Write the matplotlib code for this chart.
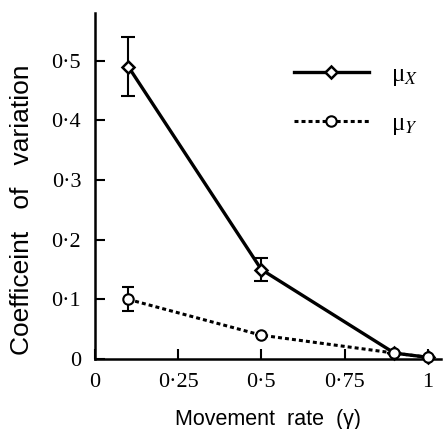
import numpy as np
import matplotlib
matplotlib.use("Agg")
import matplotlib.pyplot as plt

# data
rate = [0.1, 0.5, 0.9, 1.0]
cv_x = [0.49, 0.15, 0.01, 0.003]
err_x = [0.05, 0.02, 0.0, 0.0]
cv_y = [0.10, 0.04, 0.01, 0.003]
err_y = [0.02, 0.0, 0.0, 0.0]

xticks = [0, 0.25, 0.5, 0.75, 1]
xticklabels = ['0', '0·25', '0·5', '0·75', '1']
yticks = [0, 0.1, 0.2, 0.3, 0.4, 0.5]
yticklabels = ['0', '0·1', '0·2', '0·3', '0·4', '0·5']

plt.rcParams['mathtext.fontset'] = 'stix'

fig = plt.figure(figsize=(4.43, 4.29), dpi=100)
ax = fig.add_axes([0.2145, 0.163, 0.781, 0.807])

# error bars (no markers), then lines with markers on top
ax.errorbar(rate, cv_x, yerr=err_x, fmt='none', ecolor='black', capsize=5,
            elinewidth=1.5, capthick=1.5, clip_on=False)
ax.errorbar(rate, cv_y, yerr=err_y, fmt='none', ecolor='black', capsize=4,
            elinewidth=1.5, capthick=1.5, clip_on=False)
ax.plot(rate, cv_x, color='black', lw=2.4, marker='D', ms=6, mfc='white',
        mec='black', mew=1.8, label='μ$_X$', clip_on=False, zorder=3)
ax.plot(rate, cv_y, color='black', lw=2.2, ls=(0, (1.3, 1.0)), marker='o',
        ms=7.5, mfc='white', mec='black', mew=1.5, label='μ$_Y$',
        clip_on=False, zorder=3)

ax.set_xlim(0, 1.04)
ax.set_ylim(0, 0.58)
ax.set_xticks(xticks)
ax.set_xticklabels(xticklabels, family='Liberation Serif', fontsize=16)
ax.set_yticks(yticks)
ax.set_yticklabels(yticklabels, family='Liberation Serif', fontsize=16)
ax.tick_params(direction='in', length=7, width=1.5, pad=10)

for s in ['top', 'right']:
    ax.spines[s].set_visible(False)
for s in ['left', 'bottom']:
    ax.spines[s].set_linewidth(1.8)

ax.set_xlabel('Movement  rate  (γ)', family='Liberation Sans', fontsize=15.5)
ax.set_ylabel('Coefficeint   of   variation', family='Liberation Sans',
              fontsize=19)
ax.xaxis.set_label_coords(0.5, -0.145)
ax.yaxis.set_label_coords(-0.175, 0.43)

leg = ax.legend(loc='upper right', bbox_to_anchor=(1.0, 0.92), frameon=False,
                handlelength=3.0, labelspacing=1.0, handletextpad=0.9,
                prop={'family': 'Liberation Serif', 'size': 18})

plt.savefig('out.png', dpi=100)
